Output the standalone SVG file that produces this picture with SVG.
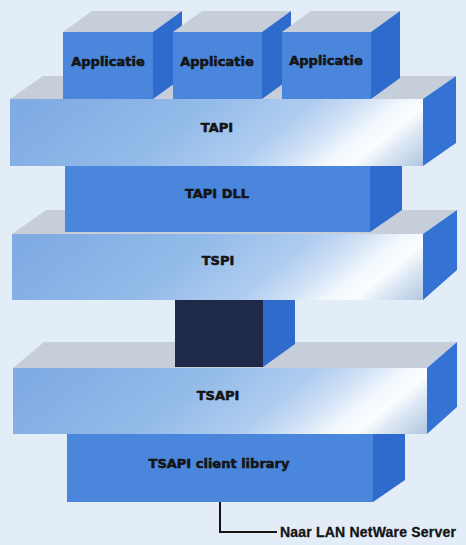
<svg xmlns="http://www.w3.org/2000/svg" width="466" height="545" viewBox="0 0 466 545">
  <defs>
    <style>
      .bg { fill: #e3edf8; }
      .top { fill: #c6cfd9; }
      .side { fill: #3473d4; }
      .blk { fill: #4a87dc; }
      .blkside { fill: #2f6acd; }
      .dark { fill: #1e2a48; }
      .bar { fill: url(#barGrad); }
      .lbl { font-family: "DejaVu Sans", "Liberation Sans", sans-serif; font-weight: bold; font-size: 13px; fill: #141414; stroke: #141414; stroke-width: 0.55; text-anchor: middle; }
      .note { font-family: "Liberation Sans", Arial, sans-serif; font-weight: bold; font-size: 14px; fill: #141414; stroke: #141414; stroke-width: 0.3; letter-spacing: 0.2px; }
      .wire { fill: none; stroke: #141414; stroke-width: 2; }
    </style>
    <!-- diagonal sheen across the front of each wide layer (local bar coordinates) -->
    <linearGradient id="barGrad" gradientUnits="userSpaceOnUse" x1="150" y1="-100" x2="430" y2="245">
      <stop offset="0" stop-color="#80abe3"/>
      <stop offset="0.25" stop-color="#93bbe9"/>
      <stop offset="0.40" stop-color="#b0cdf0"/>
      <stop offset="0.47" stop-color="#d2e2f6"/>
      <stop offset="0.52" stop-color="#f1f7fd"/>
      <stop offset="0.56" stop-color="#fbfdff"/>
      <stop offset="0.60" stop-color="#dae6f3"/>
      <stop offset="0.68" stop-color="#a6bedd"/>
    </linearGradient>
  </defs>

  <rect class="bg" x="0" y="0" width="466" height="545"/>

  <!-- TSPI top face (under TAPI DLL) -->
  <polygon class="top" points="12,234 46,210 457,210 423,234"/>

  <!-- TAPI DLL block -->
  <g id="tapidll">
    <polygon class="blkside" points="370,140 402,118 402,210 370,232"/>
    <rect class="blk" x="65" y="140" width="305" height="92"/>
    <text class="lbl" x="217" y="198">TAPI DLL</text>
  </g>

  <!-- TAPI top face (under the applications) -->
  <polygon class="top" points="10,99 43,76 456,76 423,99"/>

  <g id="app1">
    <polygon class="top" points="63,32 92,11 182,11 153,32"/>
    <polygon class="blkside" points="153,32 182,11 182,78 153,99"/>
    <rect class="blk" x="63" y="32" width="90" height="67"/>
    <text class="lbl" x="108" y="66">Applicatie</text>
  </g>
  <g id="app2">
    <polygon class="top" points="173,32 202,11 291,11 262,32"/>
    <polygon class="blkside" points="262,32 291,11 291,78 262,99"/>
    <rect class="blk" x="173" y="32" width="89" height="67"/>
    <text class="lbl" x="217" y="66">Applicatie</text>
  </g>
  <g id="app3">
    <polygon class="top" points="282,32 311,11 400,11 371,32"/>
    <polygon class="blkside" points="371,32 400,11 400,78 371,99"/>
    <rect class="blk" x="282" y="32" width="89" height="67"/>
    <text class="lbl" x="326" y="65">Applicatie</text>
  </g>

  <!-- TAPI layer -->
  <g id="tapi">
    <polygon class="side" points="423,99 456,76 456,143 423,166"/>
    <g transform="translate(10,99)">
      <rect class="bar" x="0" y="0" width="413" height="67"/>
    </g>
    <text class="lbl" x="217" y="132">TAPI</text>
  </g>

  <!-- TSAPI top face (under the service provider block) -->
  <polygon class="top" points="13,368 44,342 457,342 427,368"/>

  <!-- service provider block -->
  <g id="provider">
    <polygon class="blkside" points="263,280 295,257 295,344 263,367"/>
    <rect class="dark" x="175" y="280" width="88" height="87"/>
  </g>

  <!-- TSPI layer -->
  <g id="tspi">
    <polygon class="side" points="423,234 457,210 457,270 423,300"/>
    <g transform="translate(12,234)">
      <rect class="bar" x="0" y="0" width="411" height="66"/>
    </g>
    <text class="lbl" x="218" y="265">TSPI</text>
  </g>

  <!-- TSAPI client library block -->
  <g id="clientlib">
    <polygon class="blkside" points="373,410 405,388 405,480 373,502"/>
    <rect class="blk" x="67" y="410" width="306" height="92"/>
    <text class="lbl" x="219" y="468">TSAPI client library</text>
  </g>

  <!-- TSAPI layer -->
  <g id="tsapi">
    <polygon class="side" points="427,368 457,342 457,407 427,434"/>
    <g transform="translate(13,368)">
      <rect class="bar" x="0" y="0" width="414" height="66"/>
    </g>
    <text class="lbl" x="218" y="400">TSAPI</text>
  </g>

  <!-- link to the LAN server -->
  <g id="connectors">
    <polyline class="wire" points="220,502 220,532 277,532"/>
  </g>
  <g id="server-label">
    <text class="note" x="280" y="537">Naar LAN NetWare Server</text>
  </g>
</svg>
